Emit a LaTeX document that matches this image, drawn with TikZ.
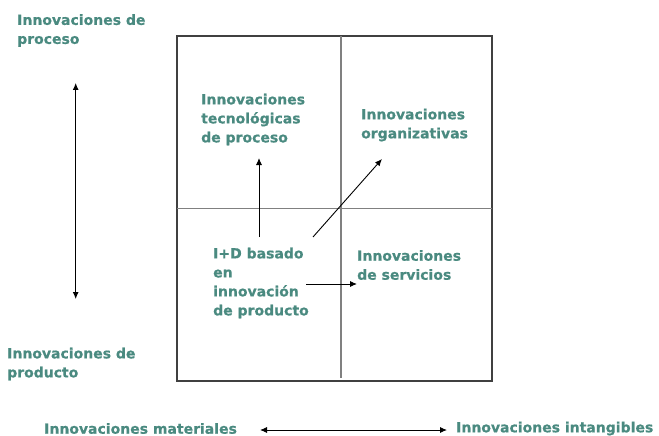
\documentclass[tikz,border=0pt]{standalone}
\usepackage{fontspec}
\setmainfont{DejaVu Sans}[BoldFont={DejaVu Sans Bold}, BoldFeatures={FakeBold=0.6}]
\usepackage{tikz}
\usetikzlibrary{arrows.meta, positioning, calc}
\definecolor{verdeinno}{RGB}{74,138,128}

\begin{document}
\begin{tikzpicture}[x=1pt, y=-1pt,
        etiqueta/.style={anchor=west, inner sep=0pt, align=left, text=verdeinno,
            font=\fontsize{14pt}{19pt}\selectfont\bfseries},
        punta/.style={Latex[length=7pt, width=6pt]},
        flecha/.style={-{Latex[length=7pt, width=6pt]}, line width=0.9pt, black},
        doble/.style={{Latex[length=7pt, width=6pt]}-{Latex[length=7pt, width=6pt]}, line width=0.9pt, black}]
        \useasboundingbox (0,0) rectangle (659,436);

        % cuadrante
        \draw[black!75, line width=1.1pt] (177,36) rectangle (492,381);
        \draw[gray, line width=1.2pt] (341,36) -- (341,378);
        \draw[gray, line width=1.2pt] (177,208.5) -- (492,208.5);

        % textos de los ejes
        \node (proceso) at (17,30.5) [etiqueta] {Innovaciones de\\proceso};
        \node (producto) at (7,364) [etiqueta] {Innovaciones de\\producto};
        \node (materiales) at (44,428.5) [etiqueta] {Innovaciones materiales};
        \node (intangibles) at (456,428.5) [etiqueta] {Innovaciones intangibles};

        % textos de los cuadrantes
        \node (tecno) at (201,119.5) [etiqueta] {Innovaciones\\tecnológicas\\de proceso};
        \node (organiz) at (361,125) [etiqueta] {Innovaciones\\organizativas};
        \node (imasd) at (213,283) [etiqueta] {I+D basado\\en\\innovación\\de producto};
        \node (servicios) at (357,265) [etiqueta] {Innovaciones\\de servicios};

        % extremos de las flechas
        \coordinate (ejeV arriba) at (75.7,83);
        \coordinate (ejeV abajo) at (75.7,299);
        \coordinate (ejeH izq) at (260,430);
        \coordinate (ejeH der) at (447,430);
        \coordinate (salida tecno) at (259,237);
        \coordinate (llegada tecno) at (259,158);
        \coordinate (salida organiz) at (313,237);
        \coordinate (llegada organiz) at (382,159);
        \coordinate (salida servicios) at (306,284);

        \draw[doble] (ejeV abajo) -- (ejeV arriba);
        \draw[doble] (ejeH izq) -- (ejeH der);

        \draw[flecha] (salida tecno) -- (llegada tecno);
        \draw[flecha] (salida organiz) -- (llegada organiz);
        \draw[flecha] (salida servicios) -- (servicios.west |- salida servicios);
    \end{tikzpicture}
\end{document}
